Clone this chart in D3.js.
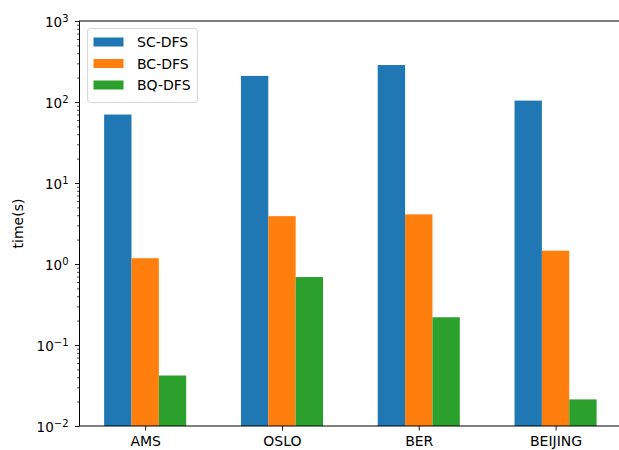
<!DOCTYPE html>
<html><head><meta charset="utf-8">
<script src="https://cdn.jsdelivr.net/npm/d3@7"></script>
<style>
body{margin:0;background:#fff;}
text{font-family:"DejaVu Sans",sans-serif;fill:#000;}
</style></head>
<body><svg id="c" width="619" height="450"></svg>
<script>
const categories = ["AMS","OSLO","BER","BEIJING"];
const seriesNames = ["SC-DFS","BC-DFS","BQ-DFS"];
const scDFS = [70, 210, 286, 104];
const bcDFS = [1.18, 3.9, 4.1, 1.46];
const bqDFS = [0.042, 0.69, 0.22, 0.0213];
const colors = ["#1f77b4","#ff7f0e","#2ca02c"];
const yExponents = [-2,-1,0,1,2,3];
const yLabel = "time(s)";

const series = [scDFS, bcDFS, bqDFS];
const svg = d3.select("#c");
const L = 79.5, T = 21, B = 426;
const unit = 136.8;
const x = d3.scaleLinear().domain([-0.48, 3.48]).range([L, L + 3.96*unit]);
const y = d3.scaleLog().domain([1e-2, 1e3]).range([B, T]);
const bw = 0.2;

// bars
series.forEach((vals, s) => {
  svg.append("g").selectAll("rect").data(vals).join("rect")
    .attr("x", (d,i) => x(i + (s-1)*bw - bw/2))
    .attr("width", x(bw) - x(0))
    .attr("y", d => y(d))
    .attr("height", d => B - y(d))
    .attr("fill", colors[s]);
});

// minor ticks
const minors = [];
for (let e = -2; e < 3; e++) for (let k = 2; k <= 9; k++) minors.push(k*Math.pow(10,e));
svg.append("g").attr("transform",`translate(${L},0)`)
  .call(d3.axisLeft(y).tickValues(minors).tickSize(2.5).tickFormat(""))
  .call(g => g.select(".domain").remove())
  .call(g => g.selectAll("line").attr("stroke","#000").attr("stroke-width",0.7));

// major ticks
const yAxis = svg.append("g").attr("transform",`translate(${L},0)`)
  .call(d3.axisLeft(y).tickValues(yExponents.map(e => Math.pow(10,e))).tickSize(4.5).tickPadding(5).tickFormat(""));
yAxis.select(".domain").remove();
yAxis.selectAll("line").attr("stroke","#000").attr("stroke-width",0.9);
yAxis.selectAll(".tick").append("text")
  .attr("x", -11).attr("dy","0.38em").attr("text-anchor","end")
  .style("font-size","13.5px")
  .each(function(d){
    const e = Math.round(Math.log10(d));
    const t = d3.select(this);
    t.append("tspan").text("10");
    t.append("tspan").attr("dy","-0.45em").style("font-size","10px").text(String(e).replace("-","\u2212"));
  });

// x axis
const xAxis = svg.append("g").attr("transform",`translate(0,${B})`)
  .call(d3.axisBottom(x).tickValues(categories.map((c,i)=>i)).tickSize(4.5).tickPadding(6).tickFormat(i => categories[i]));
xAxis.select(".domain").remove();
xAxis.selectAll("line").attr("stroke","#000").attr("stroke-width",0.9);
xAxis.selectAll("text").style("font-size","14px").attr("fill","#000");

// spines
const R = x(3.48);
svg.append("rect").attr("x",L).attr("y",T).attr("width",R-L).attr("height",B-T)
  .attr("fill","none").attr("stroke","#000").attr("stroke-width",1);

// y label
svg.append("text").attr("transform",`translate(23,${(T+B)/2}) rotate(-90)`)
  .attr("text-anchor","middle").style("font-size","14px").text(yLabel);

// legend
const lg = svg.append("g");
lg.append("rect").attr("x",87.5).attr("y",28.5).attr("width",110).attr("height",74)
  .attr("rx",3).attr("fill","#fff").attr("fill-opacity",0.8).attr("stroke","#d6d6d6");
seriesNames.forEach((n,i) => {
  const cy = 42 + i*21.5;
  lg.append("rect").attr("x",93.5).attr("y",cy-4.5).attr("width",30).attr("height",9).attr("fill",colors[i]);
  lg.append("text").attr("x",137).attr("y",cy).attr("dy","0.36em").style("font-size","14px").text(n);
});
</script></body></html>
